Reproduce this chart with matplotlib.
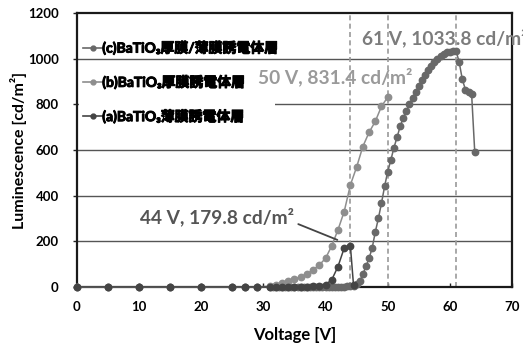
import matplotlib
matplotlib.use("Agg")
import matplotlib.pyplot as plt
import matplotlib.patheffects as pe
from matplotlib.lines import Line2D
from matplotlib.patches import Rectangle

plt.rcParams['font.family'] = ['Lato', 'Noto Sans CJK JP', 'DejaVu Sans']
plt.rcParams['font.weight'] = 'bold'

# ---------------- data ----------------
volt_a = [0, 5, 10, 15, 20, 25, 27, 29, 31, 32, 33, 34, 35, 36, 37, 38, 39, 40, 41, 42, 43, 44, 44.5]
lum_a = [0, 0, 0, 0, 0, 0, 0, 0, 0, 0, 0, 0, 0, 1, 1, 2, 5, 10, 31, 89, 170, 179.8, 8]

volt_b = [0, 5, 10, 15, 20, 25, 27, 29, 31, 32, 33, 34, 35, 36, 37, 38, 39, 40,
          41, 42, 43, 44, 45, 46, 47, 48, 49, 50]
lum_b = [0, 0, 0, 0, 0, 0, 0, 0, 3, 8, 15, 25, 35, 45, 56, 75, 96, 125,
         180, 250, 330, 447, 525, 615, 677, 725, 791, 831.4]

volt_c = [0, 5, 10, 15, 20, 25, 27, 29, 31, 31.5, 32, 32.5, 33, 33.5, 34, 34.5, 35, 35.5,
          36, 36.5, 37, 37.5, 38, 38.5, 39, 39.5, 40, 40.5, 41, 41.5, 42, 42.5, 43, 43.5,
          44, 44.5, 45, 45.5, 46, 46.5, 47, 47.5, 48, 48.5, 49, 49.5, 50, 50.5, 51, 51.5,
          52, 52.5, 53, 53.5, 54, 54.5, 55, 55.5, 56, 56.5, 57, 57.5, 58, 58.5, 59, 59.5,
          60, 60.5, 61, 61.5, 62, 62.5, 63, 63.5, 64]
lum_c = [0, 0, 0, 0, 0, 0, 0, 0, 0, 0, 0, 0, 0, 0, 0, 0, 0, 0,
         0, 0, 0, 0, 0, 0, 0, 0, 0, 0, 0, 0, 1, 1, 1, 2,
         2, 5, 12, 25, 55, 90, 125, 170, 240, 300, 367, 440, 505, 555, 610, 655,
         703, 740, 772, 800, 828, 852, 882, 905, 930, 952, 970, 984, 997, 1010, 1020, 1028,
         1031, 1033, 1033.8, 985, 910, 865, 852, 846, 593]

label_a = "(a)BaTiO\u2083薄膜誘電体層"
label_b = "(b)BaTiO\u2083厚膜誘電体層"
label_c = "(c)BaTiO\u2083厚膜/薄膜誘電体層"

peak_v = [44, 50, 61]
x_ticks = [0, 10, 20, 30, 40, 50, 60, 70]
y_ticks = [0, 200, 400, 600, 800, 1000, 1200]

col_a = "#444444"
col_b = "#8e8e8e"
col_c = "#686868"

# ---------------- figure ----------------
fig = plt.figure(figsize=(5.23, 3.44), dpi=100)
ax = fig.add_axes([0.147, 0.166, 0.832, 0.796])

ax.set_xlim(0, 70)
ax.set_ylim(0, 1200)
ax.set_xticks(x_ticks)
ax.set_yticks(y_ticks)

for y in y_ticks[1:-1]:
    ax.axhline(y, color="#555555", lw=1.0, zorder=1)

for v in peak_v:
    ax.axvline(v, color="#9a9a9a", lw=1.2, ls=(0, (3, 2)), zorder=2)

# white box behind legend (as in the reference)
ax.add_patch(Rectangle((0.005, 0.59), 0.45, 0.095, transform=ax.transAxes,
                       facecolor="white", edgecolor="none", zorder=1.5))

ms = 4.6
ax.plot(volt_c, lum_c, color=col_c, marker="o", ms=ms, lw=1.1, zorder=3, clip_on=False)
ax.plot(volt_b, lum_b, color=col_b, marker="o", ms=ms, lw=1.1, zorder=4, clip_on=False)
ax.plot(volt_a, lum_a, color=col_a, marker="o", ms=ms, lw=1.1, zorder=5, clip_on=False)

ax.text(45.8, 1092, "61 V, 1033.8 cd/m\u00b2", color="#7c7c7c", fontsize=13.8,
        fontweight="bold", va="center", ha="left", zorder=6, clip_on=False)
ax.text(29.1, 921, "50 V, 831.4 cd/m\u00b2", color="#9a9a9a", fontsize=13.8,
        fontweight="bold", va="center", ha="left", zorder=6)
ax.annotate("44 V, 179.8 cd/m\u00b2", xy=(41.9, 206), xytext=(10.1, 308),
            color="#555555", fontsize=13.8, fontweight="bold", va="center", ha="left",
            arrowprops=dict(arrowstyle="-", color="#444444", lw=1.3,
                            shrinkA=0, shrinkB=0,
                            relpos=(1.03, 0.1)),
            zorder=6)

handles = [
    Line2D([], [], color=col_c, marker="o", ms=3.5, lw=1.2),
    Line2D([], [], color=col_b, marker="o", ms=3.5, lw=1.2),
    Line2D([], [], color=col_a, marker="o", ms=3.5, lw=1.2),
]
leg = ax.legend(handles, [label_c, label_b, label_a], loc="upper left",
                bbox_to_anchor=(-0.004, 0.93), frameon=False,
                prop=dict(size=10, weight="bold"), handlelength=1.3,
                handletextpad=0.05, labelspacing=1.45, borderaxespad=0.2)
leg.set_zorder(7)
for t in leg.get_texts():
    t.set_path_effects([pe.withStroke(linewidth=0.7, foreground="black")])

for s in ax.spines.values():
    s.set_color("#1a1a1a")
    s.set_linewidth(1.6)

ax.tick_params(axis="both", labelsize=9.5, width=1.0, color="#222222")
ax.tick_params(axis="x", direction="in", length=3, pad=10)
ax.tick_params(axis="y", direction="out", length=3, pad=10)
for lbl in ax.get_xticklabels() + ax.get_yticklabels():
    lbl.set_fontweight("bold")

ax.set_xlabel("Voltage [V]", fontsize=12, fontweight="bold", labelpad=10)
ax.set_ylabel("Luminescence [cd/m\u00b2]", fontsize=11.5, fontweight="bold", labelpad=1)

fig.savefig("out.png", dpi=100)
